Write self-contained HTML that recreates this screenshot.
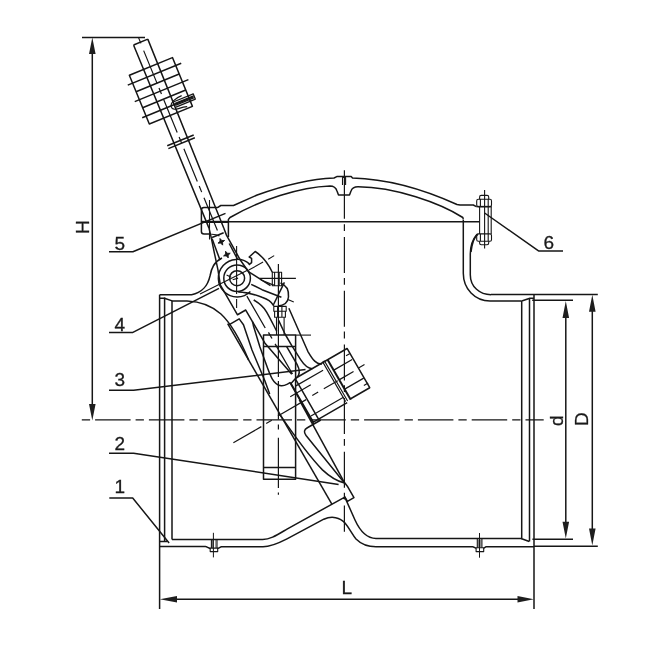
<!DOCTYPE html>
<html><head><meta charset="utf-8">
<style>
html,body{margin:0;padding:0;background:#fff;}
svg{display:block;will-change:transform;}
text{font-family:"Liberation Sans",sans-serif;fill:#1a1a1a;}
</style></head>
<body>
<svg width="650" height="649" viewBox="0 0 650 649">
<g fill="none" stroke="#161616" stroke-width="1.5" stroke-linecap="butt" stroke-linejoin="round">

<!-- ===== dimension lines ===== -->
<!-- H -->
<path d="M82 37.4H145"/>
<path d="M92.3 50V408"/>
<path d="M92.3 37.6L89 54H95.6Z M92.3 420.4L89 404H95.6Z" fill="#1e1e1e" stroke="none"/>
<!-- L -->
<path d="M159.6 294.7V609 M534 294.5V609"/>
<path d="M172 599.3H520"/>
<path d="M159.8 599.3L177 596H177V602.6Z M533.8 599.3L517.5 596V602.6Z" fill="#1e1e1e" stroke="none"/>
<!-- d -->
<path d="M532.2 300.3H573 M532.4 539.3H573"/>
<path d="M565.8 312V528"/>
<path d="M565.8 301L562.5 318H569.1Z M565.8 538.5L562.5 521.8H569.1Z" fill="#1e1e1e" stroke="none"/>
<!-- D -->
<path d="M491 294.5H597.8 M534 546.3H597.8"/>
<path d="M592.3 306V535"/>
<path d="M592.3 294.8L589 311.8H595.6Z M592.3 545.5L589 528.4H595.6Z" fill="#1e1e1e" stroke="none"/>


<!-- ===== body ===== -->
<!-- left flange -->
<path d="M164.6 297.6V541.5 M172 300.8V539.4 M159.6 541.5H167.3"/>
<path d="M159.6 294.7H191.6 C202 293 208 285 210 276 C211.5 268 214 262 222 258"/>
<path d="M159.6 298.2H164.4 L172.2 300.9H187 C214 302 230 315 248.6 360"/>
<!-- bottom -->
<path d="M172 539.4H262 C270 539.7 277 535 287 529.1 L344.8 497.1 L355 520 C360 531 366 538.4 376 538.4 H521.9"/>
<path d="M159.6 546.6H205.4 C207 546.6 208 548 210.2 548.4 M217.7 548.4 C219.5 548 220 546.8 221.6 546.8 H263 C271 546.8 279 543 287 538.9 L323.8 519.2 C332 515.5 340 517.5 345 523 C350 529 352 534 356 539 C362 545 368 546.8 376 546.8 H472.6 C474 546.8 474.5 548 476.1 548.2 M483.7 548.2 C484.8 548 485 546.8 486.2 546.8 H534"/>
<!-- right flange -->
<path d="M521.7 301V538.8 L529.3 541.5 M529.5 298V541.5 M521.7 301 L529.9 298.2 H534"/>
<!-- right walls -->
<path d="M463.3 219.4V273.3 C463.3 289 475 301 490 301 H521.7"/>
<path d="M477 234.2 C472 240 470.3 247 470.3 254 V274.7 C470.3 287 480 294.7 491 294.7"/>
<!-- plugs -->
<path d="M479.5 533V557.7" stroke-width="1"/><path d="M477.3 538.9V547.8 M481.9 538.9V547.8" stroke-width="1.1"/><path d="M478.4 539.5V547.5 M480.7 539.5V547.5" stroke-width="0.6"/><path d="M476.1 547.8V551.6H483.7V547.8Z" stroke-width="1.1"/>
<path d="M213.4 532.8V557.4" stroke-width="1"/><path d="M211.4 539.6V548.1 M217 539.6V548.1" stroke-width="1.1"/><path d="M212.5 540V548 M215.8 540V548" stroke-width="0.6"/><path d="M210.2 548.1V551.6H217.7V548.1Z" stroke-width="1.1"/>

<!-- ===== cover ===== -->
<path d="M201.4 221.8H479.6" stroke-width="1.6"/><path d="M201.4 221.9H228.4" stroke-width="2.2"/>
<path d="M201.4 210 Q201.4 207.6 204 207.6 H217.5 L220.8 205.5 H233.5 L257.2 195 C285 185 310 179 334 178 L336.8 176.6 H351.2 L352.5 178 C390 179 425 190 457 204.5 L460 205 H473.3 L476.4 206.6"/>
<path d="M201.4 210V231.5 Q201.4 234 204 234 H211"/>
<path d="M228.4 237V219.4 L230 217.5 C260 200 300 187 330 186 C334 186 336 188 337 191 L338.5 195 H349.5 L351 191 C352 188 354 186.8 358 186.8 C395 187 440 203 462.8 217.5 L463.3 219"/>
<path d="M342.5 185V177.5H345.6V185" stroke-width="1.1"/>
<!-- bolt right -->
<g stroke-width="1.1">
<path d="M484.6 190V248.6"/>
<path d="M479.6 199.3V197 Q479.6 195.4 481.2 195.4H487.1 Q488.7 195.4 488.7 197V199.3"/>
<path d="M478.3 199.3H490 Q491.5 199.3 491.5 201V205 Q491.5 206.7 490 206.7H478.3 Q476.7 206.7 476.7 205V201 Q476.7 199.3 478.3 199.3Z M480.4 199.6V206.4 M488.2 199.6V206.4"/>
<path d="M479.6 206.7V233.9 M488.2 206.7V233.9 M491.2 206.7V233.9"/>
<path d="M478.3 233.9H490 Q491.5 233.9 491.5 235.5V239.7 Q491.5 241.3 490 241.3H478.3 Q476.7 241.3 476.7 239.7V235.5 Q476.7 233.9 478.3 233.9Z M480.4 234.2V241 M488.2 234.2V241"/>
<path d="M479.6 241.3V243 Q479.6 244.7 481.2 244.7H487.1 Q488.7 244.7 488.7 243V241.3"/>
</g>
<path d="M476.4 206.6H491.5"/>
<path d="M471 252 C472 244 474 237 478 234.2"/>


<!-- ===== lever arm & weight (rotated frame) ===== -->
<g transform="translate(236.7 277.5) rotate(-22.3)">
<path d="M-7.2 -254.3H8.2 M-7.2 -254.3L-6.9 -56.2 M8.2 -254.3 L6.8 -50.7"/>
<path d="M0.2 -259.5V-253" stroke-width="1.1"/>
<path d="M0 -245.2V-50" stroke-width="1.2" stroke-dasharray="35.4 5 6.5 6.1"/>
<path d="M-22.6 -227.8H24V-175.2H-22.6Z"/>
<path d="M-27.8 -219.3H30 M-22.6 -210.1H24 M-27.6 -201.4H30.4 M-22.6 -192.8H24 M-26.8 -183.7H27.9"/>
<path d="M-14.3 -148.2H14.3 M-14.3 -145.2H14.3"/>
<g stroke-width="1.2">
<path d="M18.1 -189.2 C11 -189.3 5 -187 4.2 -183 C3.8 -179.5 7 -178.6 11 -178.3 C14 -178 17 -177.4 19 -176.8"/>
<path d="M8.5 -186.4H29.5 M8.5 -184.4H29 M8.5 -182.5H29 M8.5 -180.7H29.5 M29.5 -186.8V-180.4"/>
</g>
<!-- hub below flange -->
<path d="M-7.6 -46.4L4.9 -46.3"/><path d="M-7.2 -49.7 C-4 -48.5 -1.8 -47 -0.2 -44.9" stroke-width="1.2"/>
<path d="M-6.9 -56.2 C-8.5 -45 -10.5 -36 -11.6 -29.8 C-12.5 -24 -14 -14 -18 0.8"/>
<path d="M-8.1 -45.1 L-8.8 -22.5"/>
<path d="M6.8 -50.7 L6.6 -43.1 L10 -14.8 L13.4 0.6"/>
<path d="M6 -34.3 L7.7 -16.6"/>
</g>


<!-- ===== pivot ===== -->
<path d="M209.5 200V239.5" stroke-width="1.1"/>
<g fill="#161616" stroke-width="0.8"><path transform="translate(221.3 241.8) rotate(-22)" d="M0 -3.6 L1 -1 L3.6 0 L1 1 L0 3.6 L-1 1 L-3.6 0 L-1 -1Z"/><path transform="translate(226.9 254.6) rotate(-22)" d="M0 -3.6 L1 -1 L3.6 0 L1 1 L0 3.6 L-1 1 L-3.6 0 L-1 -1Z"/></g>

<circle cx="237.1" cy="278.2" r="7.5"/>
<circle cx="237.1" cy="278.2" r="13.3"/>
<path d="M250.4 291.5 A18.8 18.8 0 1 1 249.4 263.9"/>
<path d="M226.6 275 L231.2 277.3 M232.7 279.7 L238.1 278.1" stroke-width="1.1"/>
<path d="M236.6 246V294 M236.6 299V308" stroke-width="1.1"/>
<!-- boss outline around pivot (from flange S-curve) -->
<!-- lug + small bolt -->
<path d="M248.8 264.9 L251.6 262.6 V258.4 L249.2 257 L255.2 251.5 C262 256 268 263 272.3 272.3"/>
<path d="M248.8 271.8 L270.5 285.7"/>
<path d="M272.3 272.3H281.6V285.7H272.3Z M274.6 272.5V285.5 M279.2 272.5V285.5" stroke-width="1.1"/>
<path d="M259.4 278.3H295.9 M278.4 264V377 M278.4 381V419.6 M278.4 424.6V429.4 M278.4 437.7V488 M278.4 492.5V494.7" stroke-width="1.2"/>
<path d="M248.8 270 L263.1 262.1 M268.2 259.3 L274.2 255.6 M200 293.9 L248 270" stroke-width="1.1"/>
<path d="M284.4 282.4 L273.3 305" />
<path d="M280.5 283 C286 285 289 290 288.5 297 C288 302 284 305.5 278 306"/>
<path d="M287.9 299.4 L293.8 302.1" stroke-width="1.1"/>
<!-- hex nut -->
<path d="M273.8 306.4H286.2V311.3H273.8Z M274.6 311.3V317.2H285.4V311.3 M277.6 306.6V317 M281.9 306.6V317" stroke-width="1.1"/>
<path d="M276.5 317.2V334.9 M284.1 317.2V334.9" stroke-width="1.1"/>
<!-- seat ring rect -->
<path d="M263.5 335.1H295.6V479.3H263.5Z M263.5 346.5H295.6 M263.5 467.5H295.6"/>
<path d="M295.6 335.1H311" stroke-width="1.1"/>
<!-- lever links -->
<path d="M260.9 280 C266 282 270 284 274 285" stroke-width="1.2"/>
<path d="M251.2 284.3 L262 289.7 L281.4 297.3"/>
<path d="M238.2 291.9 C245 292 251 292.9 262 297.3 C268 299.5 271 301 273.8 305.9"/>

<!-- ===== disc assembly (rotated frame) ===== -->
<g transform="translate(236.5 277) rotate(-30)">
<!-- arm edges -->
<path d="M-18 -1 V33.2 H-8.5 V71.3 L-0.7 111.8"/>
<path d="M-8.5 46.5 C-9 49 -9.5 50 -9.8 50.9 L-14.7 72.3 L-17.5 88 C-19 96 -20 101 -20 106 C-20 111 -18.5 114.5 -15.7 116.6 C-14 117.8 -12 118.2 -9.5 118.3 H-6"/>

<path d="M-31 37.6 H-18.6 L-17.8 44.8 L-23.1 71 L-27.3 104 L-29.8 118"/>
<path d="M-0.6 21.8 V58.5 M0 63.9 V71 M0 77.2 V112" stroke-width="1.3"/>
<path d="M3.4 28.5 C6.5 34 8.6 40 8.6 45.4 C8.6 53 8 60 7.7 67.3"/>
<path d="M8.7 85 V106 C8.7 112 6 117 1 117.5"/>
<path d="M14.8 58.6 L13.5 73.9 L13.6 86.7 L14.2 104 C14.5 110 16 115 19.8 117.3"/>
<path d="M29.7 53.3 L24.6 100 C24.6 110 25.5 116 30.5 118"/>
<!-- line A -->
<path d="M-31 36 V244.4"/>
<!-- boss -->
<path d="M1 117.2 H60 V162.5 H38 M33 164.2 H-6 V119.4 L1 117.2" />
<path d="M-5 157.6 H32.5" stroke-width="1.2"/>
<path d="M-6.6 118 V166 M0 118 V165.8"/>
<path d="M32.2 116.6 V162.5 M34.2 116.6 V163" stroke-width="1.1"/><path d="M32.2 116.6 H34.2" stroke-width="1"/><path d="M37.5 117.3 V163.5" stroke-width="2"/>
<path d="M-3 124 H28.4 M-13.3 130.5 H10.4 M-33.6 141 H-1 M-85.6 142 H-53.3 M-47.6 141.8 H-41.1" stroke-width="1.2"/>
<path d="M37.7 129.3 H58.9 M37.9 140.4 H54.1 M38.1 151.2 H59.6 M55.5 123 H59.6 M56 157.7 H61" stroke-width="1.2"/>
<path d="M6.4 140.5 H13.2 M19.7 140.5 H35.8 M60.7 139.8 H67.1" stroke-width="1.2"/>
<!-- lower disc -->
<path d="M-7.1 137.9 L-9.3 232"/>
<path d="M1.5 166 H-14 C-18 166 -19.5 168 -19 172 L-9.5 232"/>
<path d="M-31.4 140 C-29 170 -26 195 -22 210 C-19 220 -14 228 -9.5 232.4"/>
<path d="M-9.3 231.7 L-8.6 236.6 V249.8 H-16.1 V244.2"/>
</g>

<!-- centre lines -->
<path d="M81.8 419.9H543.7" stroke-width="1.2" stroke-dasharray="8.3 5 35.5 5"/>
<path d="M344.4 170.2V218.8" stroke-width="1.2"/><path d="M344.4 224.2V531.8" stroke-width="1.2" stroke-dasharray="6.8 6 36 4.9"/>

<!-- ===== labels & leaders ===== -->
<path d="M109 251.8H132.9L225.5 213.4"/>
<path d="M109 332.4H132.9L219 288.4"/>
<path d="M109 390.3H133.6L305.5 369.6"/>
<path d="M109 453.2H133.6L338.6 484.4"/>
<path d="M109.3 498H132.7L169.1 543"/>
<path d="M563 250.9H538.5L484.6 213"/>
</g>
<g font-size="19" stroke="#161616" stroke-width="0.3">
<text x="114.5" y="249.5">5</text>
<text x="114.5" y="330.9">4</text>
<text x="114.5" y="386.1">3</text>
<text x="114.5" y="449.5">2</text>
<text x="114.5" y="493.2">1</text>
<text x="543.5" y="248.7">6</text>
<text x="341.5" y="593.7">L</text>
<text transform="translate(88.6 234) rotate(-90)">H</text>
<text transform="translate(563 426) rotate(-90)">d</text>
<text transform="translate(588.3 426) rotate(-90)">D</text>
</g>
</svg>
</body></html>
